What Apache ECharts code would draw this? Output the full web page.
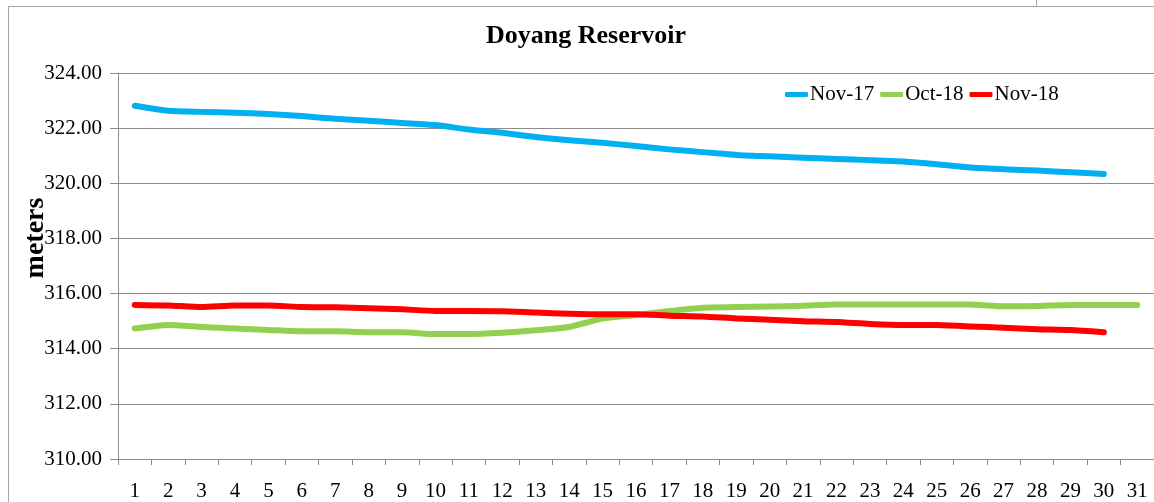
<!DOCTYPE html>
<html>
<head>
<meta charset="utf-8">
<script src="https://cdn.jsdelivr.net/npm/echarts@6/dist/echarts.min.js"></script>
<style>
  html, body { margin: 0; padding: 0; background: #fff; }
  #chart { width: 1154px; height: 502px; }
</style>
</head>
<body>
<div id="chart"></div>
<script>
// days of the month (x axis)
const days = Array.from({ length: 31 }, (_, i) => String(i + 1))

// reservoir level, meters
const nov17 = [322.81, 322.63, 322.59, 322.56, 322.51, 322.44, 322.34, 322.27, 322.19, 322.11,
  321.95, 321.83, 321.68, 321.56, 321.47, 321.35, 321.23, 321.13, 321.03, 320.98,
  320.93, 320.88, 320.84, 320.79, 320.69, 320.57, 320.51, 320.46, 320.40, 320.34]
const oct18 = [314.73, 314.86, 314.79, 314.73, 314.68, 314.63, 314.63, 314.60, 314.60, 314.53,
  314.53, 314.58, 314.67, 314.79, 315.09, 315.22, 315.37, 315.49, 315.51, 315.53,
  315.56, 315.60, 315.60, 315.60, 315.60, 315.60, 315.54, 315.55, 315.59, 315.59, 315.59]
const nov18 = [315.59, 315.57, 315.51, 315.57, 315.57, 315.51, 315.50, 315.47, 315.43, 315.37,
  315.37, 315.36, 315.31, 315.27, 315.25, 315.25, 315.20, 315.17, 315.10, 315.05,
  315.00, 314.97, 314.90, 314.86, 314.86, 314.81, 314.76, 314.71, 314.68, 314.60]

const seriesNames = ['Nov-17', 'Oct-18', 'Nov-18']
const seriesColors = ['#00b0f0', '#92d050', '#ff0000']

const font = "'Liberation Serif', 'Times New Roman', serif"

const chart = echarts.init(document.getElementById('chart'), null, { renderer: 'canvas' })

const mkLine = (name, data, color) => ({
  name,
  type: 'line',
  data,
  symbol: 'none',
  smooth: 0.2,
  lineStyle: { color, width: 6, cap: 'round', join: 'round' },
  itemStyle: { color },
  z: 3
})

chart.setOption({
  animation: false,
  backgroundColor: '#fff',
  textStyle: { fontFamily: font, color: '#000' },
  title: {
    text: 'Doyang Reservoir',
    left: 486,
    top: 23,
    padding: 0,
    textStyle: { fontFamily: font, fontSize: 26, fontWeight: 'bold', color: '#000' }
  },
  legend: {
    data: seriesNames,
    left: 785,
    top: 84,
    padding: 0,
    itemGap: 6,
    itemWidth: 23,
    itemHeight: 5,
    icon: 'roundRect',
    textStyle: { fontFamily: font, fontSize: 21, color: '#000', padding: [0, 0, 0, -3] }
  },
  graphic: [
    // outer chart frame
    { type: 'rect', shape: { x: 8.5, y: 6.5, width: 1160, height: 520 },
      style: { fill: 'none', stroke: '#a6a6a6', lineWidth: 1 }, silent: true, z: 0 },
    { type: 'line', shape: { x1: 1036.5, y1: 0, x2: 1036.5, y2: 6 },
      style: { stroke: '#a6a6a6', lineWidth: 1 }, silent: true },
    // y axis title
    { type: 'text', x: 36, y: 238, rotation: Math.PI / 2,
      style: { text: 'meters', fontFamily: font, fontSize: 28, fontWeight: 'bold',
        fill: '#000', align: 'center', verticalAlign: 'middle' }, silent: true }
  ],
  grid: { left: 118, top: 73, width: 1038, height: 387, containLabel: false },
  xAxis: {
    type: 'category',
    data: days,
    boundaryGap: true,
    axisLine: { lineStyle: { color: '#8c8c8c', width: 1 } },
    axisTick: { show: true, length: 6, lineStyle: { color: '#8c8c8c' } },
    axisLabel: { fontFamily: font, fontSize: 21, color: '#000', margin: 22, interval: 0 }
  },
  yAxis: {
    type: 'value',
    min: 310,
    max: 324,
    interval: 2,
    axisLine: { show: true, lineStyle: { color: '#8c8c8c', width: 1 } },
    axisTick: { show: true, length: 8, lineStyle: { color: '#8c8c8c' } },
    axisLabel: { fontFamily: font, fontSize: 21, color: '#000', margin: 16,
      formatter: v => v.toFixed(2) },
    splitLine: { show: true, lineStyle: { color: '#8c8c8c', width: 1 } }
  },
  series: [
    mkLine(seriesNames[0], nov17, seriesColors[0]),
    mkLine(seriesNames[1], oct18, seriesColors[1]),
    mkLine(seriesNames[2], nov18, seriesColors[2])
  ]
})
</script>
</body>
</html>
